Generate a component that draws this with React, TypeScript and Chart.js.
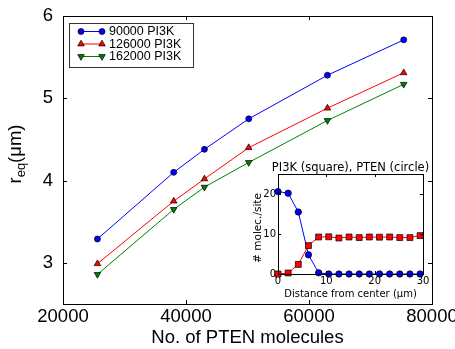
import React, { useEffect, useRef } from "react";
import { Chart, registerables } from "chart.js";

Chart.register(...registerables);

// ---------- main chart data ----------
const ptenMolecules = [25600, 38000, 43000, 50200, 63000, 75400];
const req90000 = [3.29, 4.1, 4.38, 4.75, 5.28, 5.71];
const req126000 = [2.99, 3.75, 4.02, 4.4, 4.88, 5.31];
const req162000 = [2.86, 3.65, 3.92, 4.22, 4.73, 5.17];
const seriesLabels = ["90000 PI3K", "126000 PI3K", "162000 PI3K"];
const xTicks = [20000, 40000, 60000, 80000];
const yTicks = [3, 4, 5, 6];

// ---------- inset data ----------
const distance = [0, 2.1, 4.2, 6.3, 8.4, 10.5, 12.6, 14.7, 16.8, 18.9, 21, 23.1, 25.2, 27.3, 29.4];
const pi3kPerSite = [0, 0.25, 2.4, 7.1, 9.25, 9.3, 9.0, 9.25, 9.1, 9.25, 9.2, 9.25, 9.1, 9.1, 9.6];
const ptenPerSite = [20.6, 20.2, 15.5, 4.8, 0.3, 0, 0, 0, 0, 0, 0, 0, 0, 0, 0];
const insetXTicks = [0, 10, 20, 30];
const insetYTicks = [0, 10, 20];

const MAIN_FONT = '"Liberation Sans", Arial, sans-serif';
const INSET_FONT = '"DejaVu Sans", sans-serif';

type Marker = "circle" | "up" | "down" | "square";

function drawMarker(ctx: CanvasRenderingContext2D, kind: Marker, x: number, y: number, fill: string) {
  ctx.save();
  ctx.fillStyle = fill;
  ctx.strokeStyle = "#000";
  ctx.lineWidth = 0.7;
  ctx.beginPath();
  if (kind === "circle") {
    ctx.arc(x, y, 3, 0, Math.PI * 2);
  } else if (kind === "up" || kind === "down") {
    const r = 3.8;
    const s = kind === "up" ? -1 : 1;
    ctx.moveTo(x, y + s * r);
    ctx.lineTo(x + r * Math.sin((2 * Math.PI) / 3), y - s * r * 0.5);
    ctx.lineTo(x - r * Math.sin((2 * Math.PI) / 3), y - s * r * 0.5);
    ctx.closePath();
  } else {
    ctx.rect(x - 3, y - 3, 6, 6);
  }
  ctx.fill();
  ctx.stroke();
  ctx.restore();
}

const seriesStyle = [
  { color: "#0000ff", marker: "circle" as Marker, pointStyle: "circle", radius: 3, rotation: 0 },
  { color: "#ff0000", marker: "up" as Marker, pointStyle: "triangle", radius: 3.8, rotation: 0 },
  { color: "#008000", marker: "down" as Marker, pointStyle: "triangle", radius: 3.8, rotation: 180 },
];

function drawFrameAndTicks(
  ctx: CanvasRenderingContext2D,
  chart: any,
  xt: number[],
  yt: number[],
  len: number
) {
  const a = chart.chartArea;
  const xs = chart.scales.x;
  const ys = chart.scales.y;
  ctx.save();
  ctx.strokeStyle = "#000";
  ctx.lineWidth = 1;
  ctx.beginPath();
  xt.forEach((v) => {
    if (v <= xs.min || v >= xs.max) return;
    const px = Math.round(xs.getPixelForValue(v)) + 0.5;
    ctx.moveTo(px, a.bottom);
    ctx.lineTo(px, a.bottom - len);
    ctx.moveTo(px, a.top);
    ctx.lineTo(px, a.top + len);
  });
  yt.forEach((v) => {
    if (v <= ys.min || v >= ys.max) return;
    const py = Math.round(ys.getPixelForValue(v)) + 0.5;
    ctx.moveTo(a.left, py);
    ctx.lineTo(a.left + len, py);
    ctx.moveTo(a.right, py);
    ctx.lineTo(a.right - len, py);
  });
  ctx.stroke();
  ctx.strokeRect(Math.round(a.left) + 0.5, Math.round(a.top) + 0.5, Math.round(a.right - a.left), Math.round(a.bottom - a.top));
  ctx.restore();
}

const mainDecor = {
  id: "mainDecor",
  afterDraw(chart: any) {
    const ctx: CanvasRenderingContext2D = chart.ctx;
    const a = chart.chartArea;
    drawFrameAndTicks(ctx, chart, xTicks, yTicks, 4);

    ctx.save();
    ctx.fillStyle = "#000";
    // x title
    ctx.font = `18.5px ${MAIN_FONT}`;
    ctx.textAlign = "center";
    ctx.textBaseline = "alphabetic";
    ctx.fillText("No. of PTEN molecules", (a.left + a.right) / 2, 343);

    // y title with subscript
    ctx.translate(21, 154);
    ctx.rotate(-Math.PI / 2);
    ctx.textAlign = "left";
    const big = `18.5px ${MAIN_FONT}`;
    const small = `13px ${MAIN_FONT}`;
    ctx.font = big;
    const w1 = ctx.measureText("r").width;
    const w3 = ctx.measureText("(μm)").width;
    ctx.font = small;
    const w2 = ctx.measureText("eq").width;
    let x0 = -(w1 + w2 + w3) / 2;
    ctx.font = big;
    ctx.fillText("r", x0, 0);
    x0 += w1;
    ctx.font = small;
    ctx.fillText("eq", x0, 4);
    x0 += w2;
    ctx.font = big;
    ctx.fillText("(μm)", x0, 0);
    ctx.restore();

    // legend
    ctx.save();
    const lx = 69, ly = 23, lw = 124, lh = 44;
    ctx.fillStyle = "#fff";
    ctx.fillRect(lx, ly, lw, lh);
    ctx.strokeStyle = "#333";
    ctx.lineWidth = 1;
    ctx.strokeRect(lx + 0.5, ly + 0.5, lw, lh);
    const rows = [31.5, 44, 56.5];
    seriesLabels.forEach((label, i) => {
      const st = seriesStyle[i];
      const y = rows[i];
      ctx.strokeStyle = st.color;
      ctx.lineWidth = 1;
      ctx.beginPath();
      ctx.moveTo(81, y);
      ctx.lineTo(102, y);
      ctx.stroke();
      drawMarker(ctx, st.marker, 81, y, st.color);
      drawMarker(ctx, st.marker, 102, y, st.color);
      ctx.fillStyle = "#000";
      ctx.font = `12.5px ${MAIN_FONT}`;
      ctx.textAlign = "left";
      ctx.textBaseline = "middle";
      ctx.fillText(label, 109, y + 0.5);
    });
    ctx.restore();
  },
};

const insetDecor = {
  id: "insetDecor",
  afterDraw(chart: any) {
    const ctx: CanvasRenderingContext2D = chart.ctx;
    const a = chart.chartArea;
    drawFrameAndTicks(ctx, chart, insetXTicks, insetYTicks, 3);
    ctx.save();
    ctx.fillStyle = "#000";
    ctx.textAlign = "center";
    ctx.textBaseline = "alphabetic";
    ctx.font = `11.5px ${INSET_FONT}`;
    ctx.fillText("PI3K (square), PTEN (circle)", (a.left + a.right) / 2, 16);
    ctx.font = `10px ${INSET_FONT}`;
    ctx.fillText("Distance from center (μm)", (a.left + a.right) / 2, 142);
    ctx.translate(16, 73);
    ctx.rotate(-Math.PI / 2);
    ctx.font = `10.5px ${INSET_FONT}`;
    ctx.fillText("# molec./site", 0, 0);
    ctx.restore();
  },
};

function fixTicks(values: number[]) {
  return (scale: any) => {
    scale.ticks = values.map((v) => ({ value: v }));
  };
}

function fixSize(prop: "width" | "height", size: number) {
  return (scale: any) => {
    scale[prop] = size;
    scale.paddingLeft = 0;
    scale.paddingRight = 0;
    scale.paddingTop = 0;
    scale.paddingBottom = 0;
  };
}

export default function App() {
  const mainRef = useRef<HTMLCanvasElement | null>(null);
  const insetRef = useRef<HTMLCanvasElement | null>(null);

  useEffect(() => {
    const mainSeries = [req90000, req126000, req162000];
    const main = new Chart(mainRef.current!, {
      type: "line",
      data: {
        datasets: mainSeries.map((vals, i) => ({
          label: seriesLabels[i],
          data: ptenMolecules.map((x, j) => ({ x, y: vals[j] })),
          borderColor: seriesStyle[i].color,
          borderWidth: 1,
          backgroundColor: seriesStyle[i].color,
          pointStyle: seriesStyle[i].pointStyle as any,
          pointRadius: seriesStyle[i].radius,
          pointRotation: seriesStyle[i].rotation,
          pointBackgroundColor: seriesStyle[i].color,
          pointBorderColor: "#000",
          pointBorderWidth: 0.7,
          tension: 0,
          fill: false,
        })),
      },
      options: {
        animation: false,
        responsive: false,
        devicePixelRatio: 1,
        layout: { padding: { top: 16, right: 23, left: 0, bottom: 0 } },
        plugins: { legend: { display: false }, tooltip: { enabled: false }, title: { display: false } },
        scales: {
          x: {
            type: "linear",
            min: 20000,
            max: 80000,
            grid: { display: false, drawTicks: false },
            border: { display: false },
            afterBuildTicks: fixTicks(xTicks),
            afterFit: fixSize("height", 45),
            ticks: {
              color: "#000",
              font: { family: MAIN_FONT, size: 18.5 },
              padding: 2,
              maxRotation: 0,
              autoSkip: false,
              callback: (v: any) => String(v),
            },
          },
          y: {
            type: "linear",
            min: 2.5,
            max: 6,
            grid: { display: false, drawTicks: false },
            border: { display: false },
            afterBuildTicks: fixTicks(yTicks),
            afterFit: fixSize("width", 63),
            ticks: {
              color: "#000",
              font: { family: MAIN_FONT, size: 18.5 },
              padding: 10,
              autoSkip: false,
              callback: (v: any) => String(v),
            },
          },
        },
      },
      plugins: [mainDecor],
    });

    const insetSeries = [
      { vals: pi3kPerSite, color: "#ff0000", style: "rect", radius: 4.2 },
      { vals: ptenPerSite, color: "#0000ff", style: "circle", radius: 3.2 },
    ];
    const inset = new Chart(insetRef.current!, {
      type: "line",
      data: {
        datasets: insetSeries.map((s) => ({
          data: distance.map((x, j) => ({ x, y: s.vals[j] })),
          borderColor: s.color,
          borderWidth: 1,
          backgroundColor: s.color,
          pointStyle: s.style as any,
          pointRadius: s.radius,
          pointBackgroundColor: s.color,
          pointBorderColor: "#000",
          pointBorderWidth: 0.7,
          tension: 0,
          fill: false,
          clip: false as any,
        })),
      },
      options: {
        animation: false,
        responsive: false,
        devicePixelRatio: 1,
        layout: { padding: { top: 19, right: 10, left: 0, bottom: 0 } },
        plugins: { legend: { display: false }, tooltip: { enabled: false }, title: { display: false } },
        scales: {
          x: {
            type: "linear",
            min: 0,
            max: 30,
            grid: { display: false, drawTicks: false },
            border: { display: false },
            afterBuildTicks: fixTicks(insetXTicks),
            afterFit: fixSize("height", 29),
            ticks: {
              color: "#000",
              font: { family: INSET_FONT, size: 10 },
              padding: 1,
              maxRotation: 0,
              autoSkip: false,
            },
          },
          y: {
            type: "linear",
            min: 0,
            max: 25,
            grid: { display: false, drawTicks: false },
            border: { display: false },
            afterBuildTicks: fixTicks(insetYTicks),
            afterFit: fixSize("width", 33),
            ticks: {
              color: "#000",
              font: { family: INSET_FONT, size: 10 },
              padding: 2,
              autoSkip: false,
            },
          },
        },
      },
      plugins: [insetDecor],
    });

    return () => {
      main.destroy();
      inset.destroy();
    };
  }, []);

  return (
    <div style={{ position: "fixed", left: 0, top: 0, width: 455, height: 349, background: "#fff" }}>
      <canvas ref={mainRef} width={455} height={349} style={{ position: "absolute", left: 0, top: 0, width: 455, height: 349 }} />
      <canvas ref={insetRef} width={188} height={148} style={{ position: "absolute", left: 245, top: 155, width: 188, height: 148 }} />
    </div>
  );
}
